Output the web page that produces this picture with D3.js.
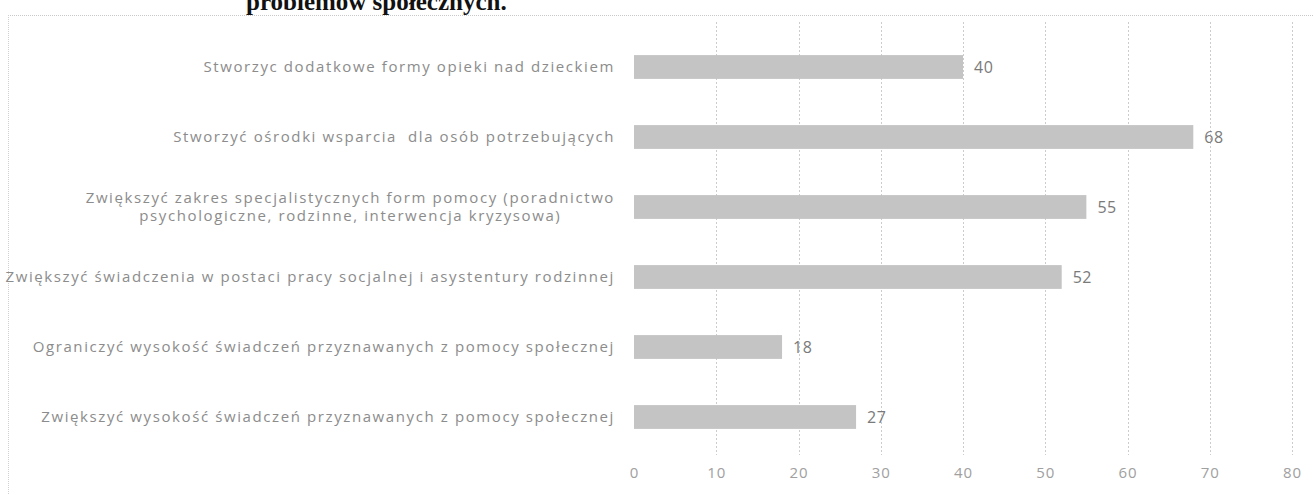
<!DOCTYPE html>
<html><head><meta charset="utf-8">
<script src="https://cdn.jsdelivr.net/npm/d3@7"></script>
<style>html,body{margin:0;padding:0;background:#fff;overflow:hidden} text{white-space:pre}</style>
</head><body>
<svg id="c" width="1313" height="495"></svg>
<script>
const categories = [
  ["Stworzyc dodatkowe formy opieki nad dzieckiem"],
  ["Stworzyć ośrodki wsparcia  dla osób potrzebujących"],
  ["Zwiększyć zakres specjalistycznych form pomocy (poradnictwo", "psychologiczne, rodzinne, interwencja kryzysowa)"],
  ["Zwiększyć świadczenia w postaci pracy socjalnej i asystentury rodzinnej"],
  ["Ograniczyć wysokość świadczeń przyznawanych z pomocy społecznej"],
  ["Zwiększyć wysokość świadczeń przyznawanych z pomocy społecznej"]
];
const values = [40, 68, 55, 52, 18, 27];
const ticks = [0, 10, 20, 30, 40, 50, 60, 70, 80];
const title = "problemów społecznych.";

const svg = d3.select("#c");
const x = d3.scaleLinear().domain([0, 80]).range([634, 1292]);
const y = d3.scaleBand().domain(d3.range(categories.length)).range([32, 452]).paddingInner(0.66).paddingOuter(0.33);

// border
svg.append("line").attr("x1", 8).attr("x2", 1313).attr("y1", 15.5).attr("y2", 15.5)
  .attr("stroke", "#c8c8c8").attr("stroke-dasharray", "1,1");
svg.append("line").attr("x1", 8.5).attr("x2", 8.5).attr("y1", 15).attr("y2", 495)
  .attr("stroke", "#d0d0d0").attr("stroke-dasharray", "1,1");

// title (cut off at top, as in the scanned reference)
svg.append("text").attr("x", 246).attr("y", 10).text(title)
  .attr("font-family", "Liberation Serif").attr("font-weight", "bold").attr("font-size", 25).attr("fill", "#111");

// gridlines
svg.append("g").selectAll("line").data(ticks.filter(t => t > 0)).join("line")
  .attr("x1", d => Math.round(x(d)) + 0.5).attr("x2", d => Math.round(x(d)) + 0.5)
  .attr("y1", 22).attr("y2", 455)
  .attr("stroke", "#cccccc").attr("stroke-dasharray", "2,2");

// x axis
const ax = svg.append("g").attr("transform", "translate(0,462)")
  .call(d3.axisBottom(x).tickValues(ticks).tickSize(0).tickPadding(5));
ax.select(".domain").remove();
ax.selectAll("text").attr("font-family", "Open Sans").attr("font-size", 15).attr("letter-spacing", "1px").attr("fill", "#a0a0a0");

// bars
svg.append("g").selectAll("rect").data(values).join("rect")
  .attr("x", x(0)).attr("y", (d, i) => y(i)).attr("width", d => x(d) - x(0)).attr("height", y.bandwidth())
  .attr("fill", "#c4c4c4");

// value labels
svg.append("g").selectAll("text").data(values).join("text")
  .attr("x", d => x(d) + 11).attr("y", (d, i) => y(i) + y.bandwidth() / 2).attr("dy", "0.35em")
  .text(d => d).attr("font-family", "Open Sans").attr("font-size", 16).attr("letter-spacing", "0.5px").attr("fill", "#7a7a7a");

// category labels (multi-line labels are centred under their widest line)
const fs = 15, rightX = 615, lh = 18;
const cl = svg.append("g").selectAll("text").data(categories).join("text")
  .attr("y", (d, i) => y(i) + y.bandwidth() / 2)
  .attr("font-family", "Open Sans").attr("font-size", fs)
  .attr("letter-spacing", "1.6px").attr("fill", "#8c8c8c");
cl.each(function(lines) {
  const t = d3.select(this);
  if (lines.length === 1) {
    t.attr("text-anchor", "end").append("tspan").attr("x", rightX).attr("dy", "0.35em").text(lines[0]);
    return;
  }
  // measure widest line
  let maxW = 0;
  lines.forEach(ln => {
    const tmp = t.append("tspan").text(ln);
    maxW = Math.max(maxW, tmp.node().getComputedTextLength());
    tmp.remove();
  });
  const cx = rightX - maxW / 2;
  t.attr("text-anchor", "middle");
  lines.forEach((ln, k) => {
    t.append("tspan").attr("x", cx)
      .attr("dy", k === 0 ? ((-(lines.length - 1) * lh / 2) / fs + 0.35) + "em" : lh + "px")
      .text(ln);
  });
});
</script>
</body></html>
